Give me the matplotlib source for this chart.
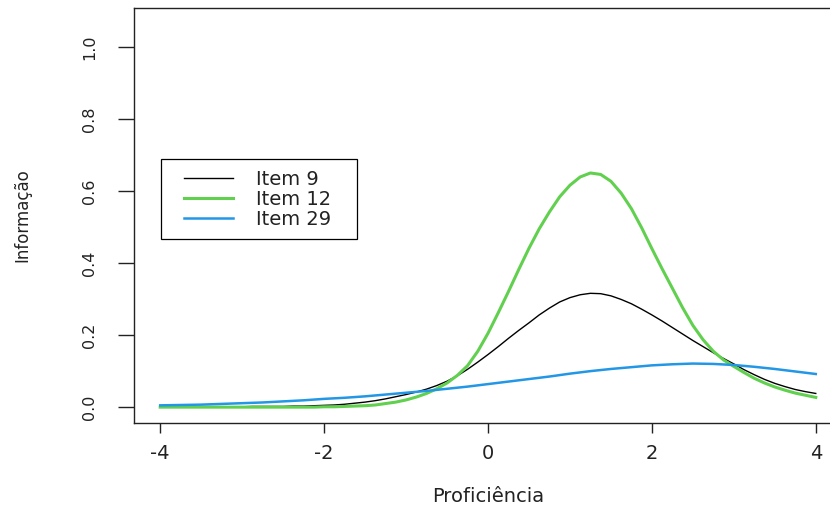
import matplotlib
matplotlib.use("Agg")
import matplotlib.pyplot as plt
from matplotlib.lines import Line2D
from matplotlib.legend_handler import HandlerLine2D

plt.rcParams['font.family'] = ['DejaVu Sans']

# proficiency grids (fine one for the two peaked items)
theta_fine = [-4.0, -3.875, -3.75, -3.625, -3.5, -3.375, -3.25, -3.125, -3.0,
              -2.875, -2.75, -2.625, -2.5, -2.375, -2.25, -2.125, -2.0,
              -1.875, -1.75, -1.625, -1.5, -1.375, -1.25, -1.125, -1.0,
              -0.875, -0.75, -0.625, -0.5, -0.375, -0.25, -0.125, 0.0,
              0.125, 0.25, 0.375, 0.5, 0.625, 0.75, 0.875, 1.0,
              1.125, 1.25, 1.375, 1.5, 1.625, 1.75, 1.875, 2.0,
              2.125, 2.25, 2.375, 2.5, 2.625, 2.75, 2.875, 3.0,
              3.125, 3.25, 3.375, 3.5, 3.625, 3.75, 3.875, 4.0]

theta_coarse = [-4.0, -3.75, -3.5, -3.25, -3.0, -2.75, -2.5, -2.25, -2.0, -1.75, -1.5,
                -1.25, -1.0, -0.75, -0.5, -0.25, 0.0, 0.25, 0.5, 0.75, 1.0, 1.25,
                1.5, 1.75, 2.0, 2.25, 2.5, 2.75, 3.0, 3.25, 3.5, 3.75, 4.0]

item9 = [0.000, 0.000, 0.000, 0.000, 0.001, 0.001, 0.001, 0.001, 0.001,
         0.002, 0.002, 0.002, 0.002, 0.003, 0.003, 0.004, 0.005,
         0.006, 0.008, 0.011, 0.014, 0.018, 0.023, 0.029, 0.035,
         0.042, 0.050, 0.060, 0.072, 0.087, 0.105, 0.125, 0.146,
         0.168, 0.191, 0.213, 0.234, 0.256, 0.275, 0.292, 0.304,
         0.312, 0.316, 0.315, 0.309, 0.299, 0.287, 0.272, 0.256,
         0.239, 0.221, 0.203, 0.185, 0.168, 0.151, 0.135, 0.120,
         0.104, 0.090, 0.077, 0.066, 0.057, 0.049, 0.043, 0.038]

item12 = [0.000, 0.000, 0.000, 0.000, 0.000, 0.000, 0.000, 0.000, 0.000,
          0.000, 0.000, 0.000, 0.000, 0.000, 0.000, 0.000, 0.001,
          0.001, 0.002, 0.003, 0.004, 0.006, 0.010, 0.014, 0.020,
          0.028, 0.038, 0.051, 0.067, 0.088, 0.115, 0.155, 0.205,
          0.262, 0.321, 0.382, 0.441, 0.495, 0.542, 0.584, 0.616,
          0.639, 0.650, 0.646, 0.627, 0.594, 0.551, 0.498, 0.440,
          0.384, 0.330, 0.276, 0.227, 0.187, 0.155, 0.131, 0.113,
          0.096, 0.080, 0.067, 0.056, 0.047, 0.039, 0.033, 0.027]

item29 = [0.005, 0.006, 0.007, 0.009, 0.011, 0.013, 0.016, 0.019, 0.023, 0.026, 0.030,
          0.035, 0.040, 0.045, 0.051, 0.057, 0.064, 0.071, 0.078, 0.085, 0.093, 0.100,
          0.106, 0.111, 0.116, 0.119, 0.121, 0.120, 0.117, 0.112, 0.106, 0.099, 0.092]

series_names = ['Item 9', 'Item 12', 'Item 29']
series_colors = ['black', '#61D04F', '#2297E6']
series_widths = [1.0, 2.2, 1.8]

xticks = [-4, -2, 0, 2, 4]
xtick_labels = ['-4', '-2', '0', '2', '4']
yticks = [0.0, 0.2, 0.4, 0.6, 0.8, 1.0]
ytick_labels = ['0.0', '0.2', '0.4', '0.6', '0.8', '1.0']

fig = plt.figure(figsize=(8.3, 5.08), dpi=100)
# box runs a bit past the right edge, like the cropped original
ax = fig.add_axes([134 / 830, 85 / 508, 708 / 830, 415 / 508])

xs = [theta_fine, theta_fine, theta_coarse]
for x, vals, name, col, lw in zip(xs, [item9, item12, item29], series_names,
                                  series_colors, series_widths):
    ax.plot(x, vals, color=col, linewidth=lw, label=name,
            solid_joinstyle='round')

ax.set_xlim(-4.32, 4.32)
ax.set_ylim(-0.044, 1.108)

for sp in ax.spines.values():
    sp.set_linewidth(1.0)
    sp.set_color('#222222')

ax.set_xticks(xticks)
ax.set_xticklabels(xtick_labels)
ax.set_yticks(yticks)
ax.set_yticklabels(ytick_labels, rotation=90, va='center')

ax.tick_params(axis='x', length=7.2, width=1.0, pad=8, labelsize=14,
               colors='#222222')
ax.tick_params(axis='y', length=11.5, width=1.0, pad=15, labelsize=11.5,
               colors='#222222')

ax.set_xlabel('Proficiência', fontsize=14, color='#222222')
ax.xaxis.label.set_va('center')
ax.xaxis.set_label_coords(0.5, -0.176)
ax.set_ylabel('Informação', fontsize=12, color='#222222')
ax.yaxis.label.set_va('center')
ax.yaxis.set_label_coords(-0.158, 0.5)

leg = ax.legend(loc='upper left', bbox_to_anchor=(-3.99, 0.466, 2.392, 0.222),
                bbox_transform=ax.transData, mode='expand', borderaxespad=0,
                fontsize=14, frameon=True, fancybox=False, framealpha=1,
                edgecolor='black', borderpad=0.55, labelspacing=0.04,
                handlelength=3.14, handletextpad=1.18,
                handler_map={Line2D: HandlerLine2D(xpad=0.62)})
leg.get_frame().set_linewidth(0.9)
for t in leg.get_texts():
    t.set_color('#222222')

fig.savefig('out.png', dpi=100)
